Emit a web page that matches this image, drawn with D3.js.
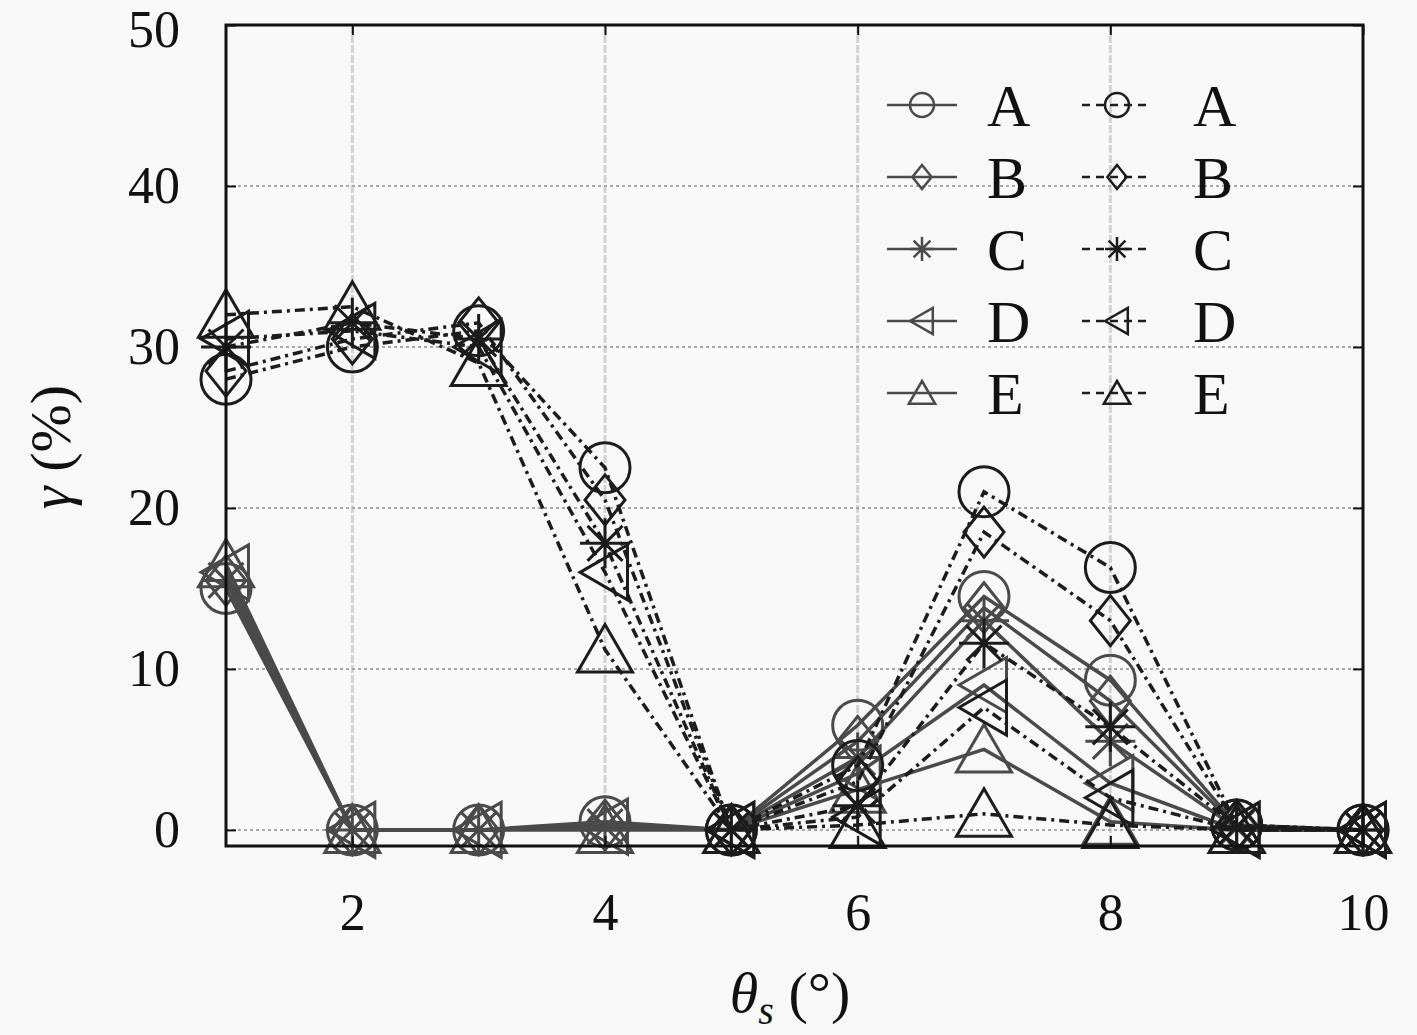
<!DOCTYPE html>
<html>
<head>
<meta charset="utf-8">
<script src="https://cdn.jsdelivr.net/npm/d3@7"></script>
<style>
  body { margin: 0; background: #f8f8f8; }
  svg { display: block; }
</style>
</head>
<body>
<div id="chart"></div>
<script>
const thetaS = [1, 2, 3, 4, 5, 6, 7, 8, 9, 10];
const seriesNames = ["A", "B", "C", "D", "E"];
const markerTypes = ["circle", "diamond", "star", "left", "up"];

// solid lines
const solidA = [15.0, 0, 0, 0.5, 0, 6.5, 14.5, 9.3, 0.3, 0];
const solidB = [15.5, 0, 0, 0.3, 0, 5.5, 13.8, 8.0, 0.2, 0];
const solidC = [15.5, 0, 0, 0.2, 0, 4.5, 13.0, 5.5, 0.1, 0];
const solidD = [16.0, 0, 0, 0.2, 0, 3.5, 9.0, 2.9, 0, 0];
const solidE = [16.5, 0, 0, 0, 0, 2.5, 5.0, 0.5, 0, 0];

// dashed lines
const dashA = [28.0, 30.0, 31.0, 22.5, 0, 4.0, 21.0, 16.3, 0.3, 0];
const dashB = [28.5, 30.5, 31.5, 20.5, 0, 3.0, 18.5, 13.0, 0.3, 0];
const dashC = [30.0, 31.5, 30.5, 17.8, 0, 1.5, 11.6, 6.4, 0.2, 0];
const dashD = [30.5, 31.0, 30.0, 16.0, 0, 0.8, 7.6, 2.0, 0, 0];
const dashE = [32.0, 32.5, 29.0, 11.2, 0, 0.3, 1.0, 0.3, 0, 0];

const xTicks = [2, 4, 6, 8, 10];
const yTicks = [0, 10, 20, 30, 40, 50];

const solidSeries = [solidA, solidB, solidC, solidD, solidE];
const dashSeries = [dashA, dashB, dashC, dashD, dashE];

const W = 1417, H = 1035;
const pLeft = 226, pRight = 1363, pTop = 25, pBottom = 846;
const serif = "'Liberation Serif', 'Times New Roman', serif";
const solidColor = "#4a4a4a";
const dashColor = "#1c1c1c";

const svg = d3.select("#chart").append("svg")
  .attr("width", W).attr("height", H)
  .style("background", "#f8f8f8");

const x = d3.scaleLinear().domain([1, 10]).range([pLeft, pRight]);
const y = d3.scaleLinear().domain([-1, 50]).range([pBottom, pTop]);

// marker shapes, s = half size
function markerPath(type, s) {
  const p = d3.path();
  if (type === "circle") {
    p.moveTo(s, 0); p.arc(0, 0, s, 0, 2 * Math.PI);
  } else if (type === "diamond") {
    p.moveTo(0, -s); p.lineTo(0.8 * s, 0); p.lineTo(0, s); p.lineTo(-0.8 * s, 0); p.closePath();
  } else if (type === "star") {
    const d = 0.7 * s;
    p.moveTo(-s, 0); p.lineTo(s, 0);
    p.moveTo(0, -s); p.lineTo(0, s);
    p.moveTo(-d, -d); p.lineTo(d, d);
    p.moveTo(-d, d); p.lineTo(d, -d);
  } else if (type === "left") {
    p.moveTo(-s, 0); p.lineTo(0.9 * s, -1.1 * s); p.lineTo(0.9 * s, 1.1 * s); p.closePath();
  } else if (type === "up") {
    p.moveTo(0, -s); p.lineTo(1.1 * s, 0.9 * s); p.lineTo(-1.1 * s, 0.9 * s); p.closePath();
  }
  return p.toString();
}

// grid
const grid = svg.append("g");
grid.selectAll("line.vg")
  .data(xTicks.filter((d) => d < 10))
  .join("line")
  .attr("x1", (d) => x(d)).attr("x2", (d) => x(d))
  .attr("y1", pTop).attr("y2", pBottom)
  .attr("stroke", "#d2d2d2").attr("stroke-width", 3)
  .attr("stroke-dasharray", "8,2");
grid.selectAll("line.hg")
  .data(yTicks.filter((d) => d < 50))
  .join("line")
  .attr("x1", pLeft).attr("x2", pRight)
  .attr("y1", (d) => y(d)).attr("y2", (d) => y(d))
  .attr("stroke", "#a8a8a8").attr("stroke-width", 2)
  .attr("stroke-dasharray", "3,3");

const line = d3.line().x((d, i) => x(thetaS[i])).y((d) => y(d));

function drawGroup(list, color, dash) {
  list.forEach((vals, k) => {
    const g = svg.append("g");
    g.append("path")
      .datum(vals)
      .attr("d", line)
      .attr("fill", "none")
      .attr("stroke", color)
      .attr("stroke-width", 3.5)
      .attr("stroke-dasharray", dash);
    g.selectAll("path.m")
      .data(vals)
      .join("path")
      .attr("class", "m")
      .attr("transform", (d, i) => `translate(${x(thetaS[i])},${y(d)})`)
      .attr("d", markerPath(markerTypes[k], 25))
      .attr("fill", "none")
      .attr("stroke", color)
      .attr("stroke-width", 3);
  });
}

drawGroup(solidSeries, solidColor, null);
drawGroup(dashSeries, dashColor, "10,5,3,5");

// frame and ticks
const axisFont = (g) => g.selectAll("text")
  .attr("font-family", serif).attr("font-size", 52).attr("fill", "#111");

svg.append("g")
  .attr("transform", `translate(0,${pBottom})`)
  .call(d3.axisBottom(x).tickValues(xTicks).tickSize(-10).tickPadding(47))
  .call((g) => g.select(".domain").remove())
  .call((g) => g.selectAll("line").attr("stroke", "#111").attr("stroke-width", 2))
  .call(axisFont);

svg.append("g")
  .attr("transform", `translate(${pLeft},0)`)
  .call(d3.axisLeft(y).tickValues(yTicks).tickSize(-10).tickPadding(46))
  .call((g) => g.select(".domain").remove())
  .call((g) => g.selectAll("line").attr("stroke", "#111").attr("stroke-width", 2))
  .call(axisFont)
  // keep the top label fully inside the page
  .call((g) => g.selectAll("text").filter((d) => d === 50).attr("dy", "0.42em"));

svg.append("g")
  .attr("transform", `translate(0,${pTop})`)
  .call(d3.axisTop(x).tickValues(xTicks).tickSize(-10).tickFormat(""))
  .call((g) => g.select(".domain").remove())
  .call((g) => g.selectAll("line").attr("stroke", "#111").attr("stroke-width", 2));

svg.append("g")
  .attr("transform", `translate(${pRight},0)`)
  .call(d3.axisRight(y).tickValues(yTicks).tickSize(-10).tickFormat(""))
  .call((g) => g.select(".domain").remove())
  .call((g) => g.selectAll("line").attr("stroke", "#111").attr("stroke-width", 2));

svg.append("rect")
  .attr("x", pLeft).attr("y", pTop)
  .attr("width", pRight - pLeft).attr("height", pBottom - pTop)
  .attr("fill", "none").attr("stroke", "#111").attr("stroke-width", 3);

// legend
const legend = svg.append("g");
const cols = [
  { x0: 887, tx: 100, color: solidColor, dash: null },
  { x0: 1082, tx: 111, color: dashColor, dash: "8,6" },
];
cols.forEach((c) => {
  seriesNames.forEach((name, i) => {
    const ly = 105 + i * 72;
    const row = legend.append("g").attr("transform", `translate(${c.x0},${ly})`);
    row.append("line")
      .attr("x1", 0).attr("x2", 70).attr("y1", 0).attr("y2", 0)
      .attr("stroke", c.color).attr("stroke-width", 2.5)
      .attr("stroke-dasharray", c.dash);
    row.append("path")
      .attr("transform", "translate(35,0)")
      .attr("d", markerPath(markerTypes[i], 12))
      .attr("fill", "none").attr("stroke", c.color).attr("stroke-width", 2.5);
    row.append("text")
      .attr("x", c.tx).attr("y", 21)
      .attr("font-family", serif).attr("font-size", 60).attr("fill", "#111")
      .text(name);
  });
});

// axis labels
const xl = svg.append("text")
  .attr("x", 790).attr("y", 1012)
  .attr("text-anchor", "middle")
  .attr("font-family", serif).attr("font-size", 58).attr("fill", "#111");
xl.append("tspan").attr("font-style", "italic").text("θ");
xl.append("tspan").attr("font-style", "italic").attr("font-size", 40).attr("dy", 12).text("s");
xl.append("tspan").attr("dy", -12).text(" (°)");

const yl = svg.append("text")
  .attr("transform", "translate(70,447) rotate(-90)")
  .attr("text-anchor", "middle")
  .attr("font-family", serif).attr("font-size", 58).attr("fill", "#111");
yl.append("tspan").attr("font-style", "italic").text("γ");
yl.append("tspan").text(" (%)");
</script>
</body>
</html>
